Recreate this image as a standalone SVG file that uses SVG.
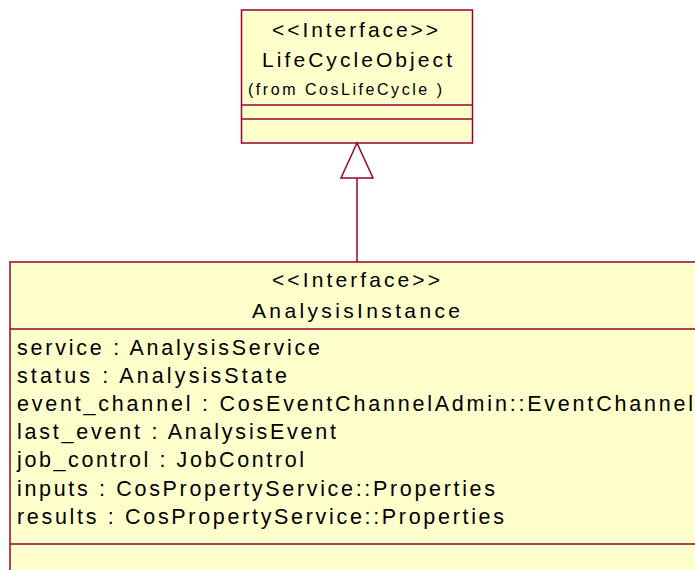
<svg xmlns="http://www.w3.org/2000/svg" width="695" height="570" viewBox="0 0 695 570">
  <style>
    .box { fill: #FFFFCC; stroke: #990033; stroke-width: 1.5; }
    .div { stroke: #990033; stroke-width: 1.5; }
    .conn { stroke: #990033; stroke-width: 1.5; fill: none; }
    .t { font-family: "Liberation Sans", Arial, sans-serif; font-size: 21px; fill: #000; }
    .a { font-family: "Liberation Sans", Arial, sans-serif; font-size: 21.5px; fill: #000; }
    .s { font-family: "Liberation Sans", Arial, sans-serif; font-size: 16px; fill: #000; }
  </style>
  <defs>
    <marker id="gen" markerUnits="userSpaceOnUse" markerWidth="38" markerHeight="36" viewBox="-1 -2 38 36" refX="35" refY="16" orient="auto">
      <path d="M0,0 L35,16 L0,32 Z" fill="#FFFFFF" stroke="#990033" stroke-width="1.5"/>
    </marker>
  </defs>
  <rect width="695" height="570" fill="#FFFFFF"/>

  <g id="LifeCycleObject">
    <rect class="box" x="241.5" y="10" width="231" height="133"/>
    <line class="div" x1="241.5" y1="105" x2="472.5" y2="105"/>
    <line class="div" x1="241.5" y1="119" x2="472.5" y2="119"/>
    <text class="t" x="272" y="37" textLength="166" lengthAdjust="spacing">&lt;&lt;Interface&gt;&gt;</text>
    <text class="t" x="262" y="67" textLength="190" lengthAdjust="spacing">LifeCycleObject</text>
    <text class="s" x="248" y="95" textLength="194" lengthAdjust="spacing">(from  CosLifeCycle )</text>
  </g>

  <g id="connectors">
    <line class="conn" x1="357" y1="262" x2="357" y2="143" marker-end="url(#gen)"/>
  </g>

  <g id="AnalysisInstance">
    <rect class="box" x="10" y="262" width="700" height="320"/>
    <line class="div" x1="10" y1="329" x2="695" y2="329"/>
    <line class="div" x1="10" y1="544" x2="695" y2="544"/>
    <text class="t" x="272" y="287" textLength="168" lengthAdjust="spacing">&lt;&lt;Interface&gt;&gt;</text>
    <text class="t" x="252" y="318" textLength="208" lengthAdjust="spacing">AnalysisInstance</text>
    <text class="a" x="17" y="355" textLength="303" lengthAdjust="spacing">service : AnalysisService</text>
    <text class="a" x="17" y="383" textLength="270" lengthAdjust="spacing">status : AnalysisState</text>
    <text class="a" x="17" y="411" textLength="676" lengthAdjust="spacing">event_channel : CosEventChannelAdmin::EventChannel</text>
    <text class="a" x="17" y="439" textLength="319" lengthAdjust="spacing">last_event : AnalysisEvent</text>
    <text class="a" x="17" y="467" textLength="287" lengthAdjust="spacing">job_control : JobControl</text>
    <text class="a" x="17" y="496" textLength="478" lengthAdjust="spacing">inputs : CosPropertyService::Properties</text>
    <text class="a" x="17" y="524" textLength="487" lengthAdjust="spacing">results : CosPropertyService::Properties</text>
  </g>
</svg>
